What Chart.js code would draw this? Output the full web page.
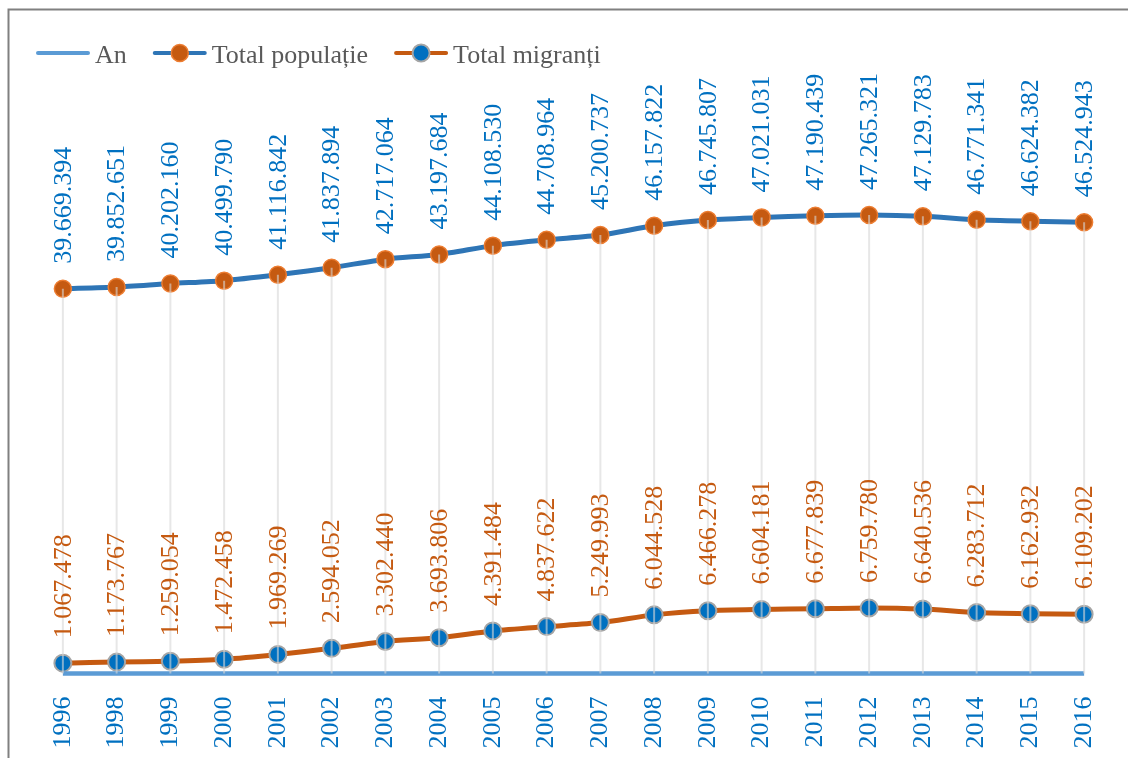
<!DOCTYPE html>
<html>
<head>
<meta charset="utf-8">
<script src="https://cdn.jsdelivr.net/npm/chart.js@4/dist/chart.umd.min.js"></script>
<style>
  html, body { margin: 0; padding: 0; background: #fff; }
  #wrap { width: 1128px; height: 758px; position: relative; }
</style>
</head>
<body>
<div id="wrap"><canvas id="c" width="1128" height="758"></canvas></div>
<script>
// Years (also plotted as the "An" series)
const years = [1996, 1998, 1999, 2000, 2001, 2002, 2003, 2004, 2005, 2006,
               2007, 2008, 2009, 2010, 2011, 2012, 2013, 2014, 2015, 2016];
const yearLabels = years.map(String);

// Total population
const totalPopulatie = [39669394, 39852651, 40202160, 40499790, 41116842, 41837894,
                        42717064, 43197684, 44108530, 44708964, 45200737, 46157822,
                        46745807, 47021031, 47190439, 47265321, 47129783, 46771341,
                        46624382, 46524943];

// Total migrants
const totalMigranti = [1067478, 1173767, 1259054, 1472458, 1969269, 2594052,
                       3302440, 3693806, 4391484, 4837622, 5249993, 6044528,
                       6466278, 6604181, 6677839, 6759780, 6640536, 6283712,
                       6162932, 6109202];

const seriesNames = ['An', 'Total populație', 'Total migranți'];
const valueLabelColors = [null, '#0070c0', '#c55a11'];

const FONT = "'Liberation Serif', 'DejaVu Serif', serif";

// 39669394 -> "39.669.394"
function fmt(v) {
  return String(Math.round(v)).replace(/\B(?=(\d{3})+(?!\d))/g, '.');
}

// Thin frame along the top and left edges
const framePlugin = {
  id: 'frame',
  beforeDraw(chart) {
    const ctx = chart.ctx;
    ctx.save();
    ctx.strokeStyle = '#808080';
    ctx.lineWidth = 2;
    ctx.beginPath();
    ctx.moveTo(8.5, 758);
    ctx.lineTo(8.5, 9.5);
    ctx.lineTo(1128, 9.5);
    ctx.stroke();
    ctx.restore();
  }
};

// Drop lines from the population points down to the category axis
const dropLinesPlugin = {
  id: 'dropLines',
  afterDatasetsDraw(chart) {
    const ctx = chart.ctx;
    const meta = chart.getDatasetMeta(1);
    const y0 = chart.scales.y.getPixelForValue(0);
    ctx.save();
    ctx.strokeStyle = 'rgba(215,215,215,0.6)';
    ctx.lineWidth = 2;
    meta.data.forEach(pt => {
      ctx.beginPath();
      ctx.moveTo(pt.x, pt.y);
      ctx.lineTo(pt.x, y0);
      ctx.stroke();
    });
    ctx.restore();
  }
};

// Vertical value labels above each point
const valueLabelsPlugin = {
  id: 'valueLabels',
  afterDatasetsDraw(chart) {
    const ctx = chart.ctx;
    ctx.save();
    ctx.font = '26px ' + FONT;
    ctx.textAlign = 'left';
    ctx.textBaseline = 'middle';
    [1, 2].forEach(i => {
      const meta = chart.getDatasetMeta(i);
      const values = chart.data.datasets[i].data;
      ctx.fillStyle = valueLabelColors[i];
      meta.data.forEach((pt, j) => {
        ctx.save();
        ctx.translate(pt.x + 1, pt.y - 25);
        ctx.rotate(-Math.PI / 2);
        ctx.fillText(fmt(values[j]), 0, 0);
        ctx.restore();
      });
    });
    ctx.restore();
  }
};

// Legend row: line sample, optional marker, series name
const legendPlugin = {
  id: 'rowLegend',
  afterDraw(chart) {
    const ctx = chart.ctx;
    ctx.save();
    ctx.font = '26px ' + FONT;
    let x = 36;
    const y = 53;
    chart.data.datasets.forEach(ds => {
      ctx.strokeStyle = ds.borderColor;
      ctx.lineWidth = 4;
      ctx.lineCap = 'round';
      ctx.beginPath();
      ctx.moveTo(x + 2, y);
      ctx.lineTo(x + 52, y);
      ctx.stroke();
      if (ds.pointRadius > 0) {
        ctx.beginPath();
        ctx.arc(x + 27, y, ds.pointRadius, 0, Math.PI * 2);
        ctx.fillStyle = ds.pointBackgroundColor;
        ctx.fill();
        ctx.lineWidth = ds.pointBorderWidth;
        ctx.strokeStyle = ds.pointBorderColor;
        ctx.stroke();
      }
      ctx.fillStyle = '#595959';
      ctx.textBaseline = 'alphabetic';
      ctx.textAlign = 'left';
      ctx.fillText(ds.label, x + 59, y + 10);
      x += 59 + ctx.measureText(ds.label).width + 26;
    });
    ctx.restore();
  }
};

new Chart(document.getElementById('c'), {
  type: 'line',
  data: {
    labels: yearLabels,
    datasets: [
      {
        label: seriesNames[0],
        data: years,
        borderColor: '#5b9bd5',
        backgroundColor: '#5b9bd5',
        borderWidth: 4.5,
        pointRadius: 0,
        pointHoverRadius: 0,
        tension: 0,
        clip: false
      },
      {
        label: seriesNames[1],
        data: totalPopulatie,
        borderColor: '#2e75b6',
        backgroundColor: '#2e75b6',
        borderWidth: 5,
        pointRadius: 8.5,
        pointBackgroundColor: '#c55a11',
        pointBorderColor: '#ed7d31',
        pointBorderWidth: 1.5,
        tension: 0.25
      },
      {
        label: seriesNames[2],
        data: totalMigranti,
        borderColor: '#c55a11',
        backgroundColor: '#c55a11',
        borderWidth: 5,
        pointRadius: 8.5,
        pointBackgroundColor: '#0070c0',
        pointBorderColor: '#a5a5a5',
        pointBorderWidth: 2,
        tension: 0.25
      }
    ]
  },
  options: {
    responsive: false,
    devicePixelRatio: 1,
    animation: false,
    events: [],
    layout: { padding: { top: 91.5, left: 36, right: 17, bottom: 0 } },
    plugins: {
      legend: { display: false },
      tooltip: { enabled: false }
    },
    scales: {
      x: {
        type: 'category',
        offset: true,
        grid: { display: false, drawTicks: false },
        border: { display: false },
        ticks: {
          autoSkip: false,
          minRotation: 90,
          maxRotation: 90,
          padding: 23,
          color: '#0070c0',
          font: { family: FONT, size: 26 }
        },
        afterFit(scale) {
          scale.height = 84.5;
          scale.paddingLeft = 0;
          scale.paddingRight = 0;
        }
      },
      y: {
        display: false,
        min: 0,
        max: 60000000
      }
    }
  },
  plugins: [framePlugin, dropLinesPlugin, valueLabelsPlugin, legendPlugin]
});
</script>
</body>
</html>
